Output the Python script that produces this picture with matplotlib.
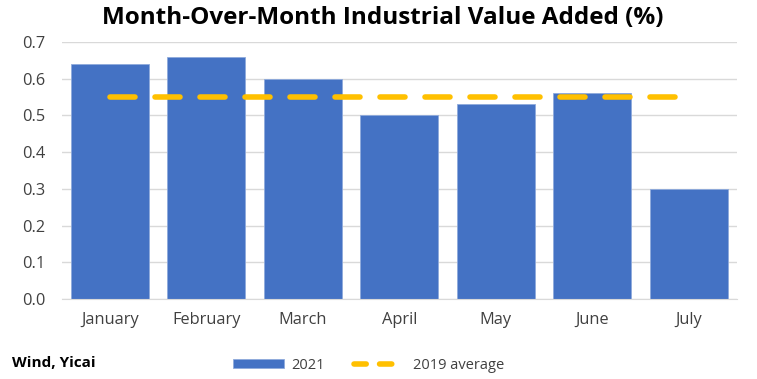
import matplotlib.pyplot as plt
from matplotlib.lines import Line2D
from matplotlib.patches import Patch

months = ["January", "February", "March", "April", "May", "June", "July"]
mom_2021 = [0.64, 0.66, 0.60, 0.50, 0.53, 0.56, 0.30]
avg_2019 = [0.55] * 7
yticks = [0.0, 0.1, 0.2, 0.3, 0.4, 0.5, 0.6, 0.7]

plt.rcParams['font.family'] = ['Open Sans', 'DejaVu Sans']
fig = plt.figure(figsize=(7.57, 3.79), dpi=100)
ax = fig.add_axes([0.0815, 0.211, 0.892, 0.678])

x = range(len(months))
ax.bar(x, mom_2021, width=0.81, color="#4472C4", edgecolor="#8FAADC", linewidth=0.6, zorder=2)
ax.plot(x, avg_2019, color="#FFC000", linewidth=4, dashes=(4.5, 3.6),
        dash_capstyle="round", zorder=3)

ax.set_xlim(-0.5, len(months) - 0.5)
ax.set_ylim(0, 0.7)
ax.set_yticks(yticks)
ax.set_yticklabels([f"{v:.1f}" for v in yticks])
ax.set_xticks(list(x))
ax.set_xticklabels(months)
ax.tick_params(axis="both", length=0, labelsize=11.8, labelcolor="#404040")
ax.tick_params(axis="y", pad=12)
ax.tick_params(axis="x", pad=9)
ax.grid(axis="y", color="#D9D9D9", linewidth=1, zorder=0)
for s in ["top", "right", "left"]:
    ax.spines[s].set_visible(False)
ax.spines["bottom"].set_color("#D9D9D9")

fig.text(0.506, 0.953, "Month-Over-Month Industrial Value Added (%)", ha="center", va="center",
         fontsize=17.5, fontweight="bold", color="black")
fig.text(0.016, 0.043, "Wind, Yicai", ha="left", va="center", fontsize=11, fontweight="bold")

handles = [Patch(facecolor="#4472C4", edgecolor="#8FAADC", linewidth=0.6),
           Line2D([0], [0], color="#FFC000", linewidth=4, dashes=(2.2, 2.4), dash_capstyle="round")]
fig.legend(handles, ["2021", "2019 average"], loc="center", bbox_to_anchor=(0.487, 0.036),
           ncol=2, frameon=False, fontsize=10.5, handlelength=3.5, handleheight=0.6,
           columnspacing=2.0, handletextpad=0.5, labelcolor="#404040")

fig.savefig("out.png", dpi=100)
